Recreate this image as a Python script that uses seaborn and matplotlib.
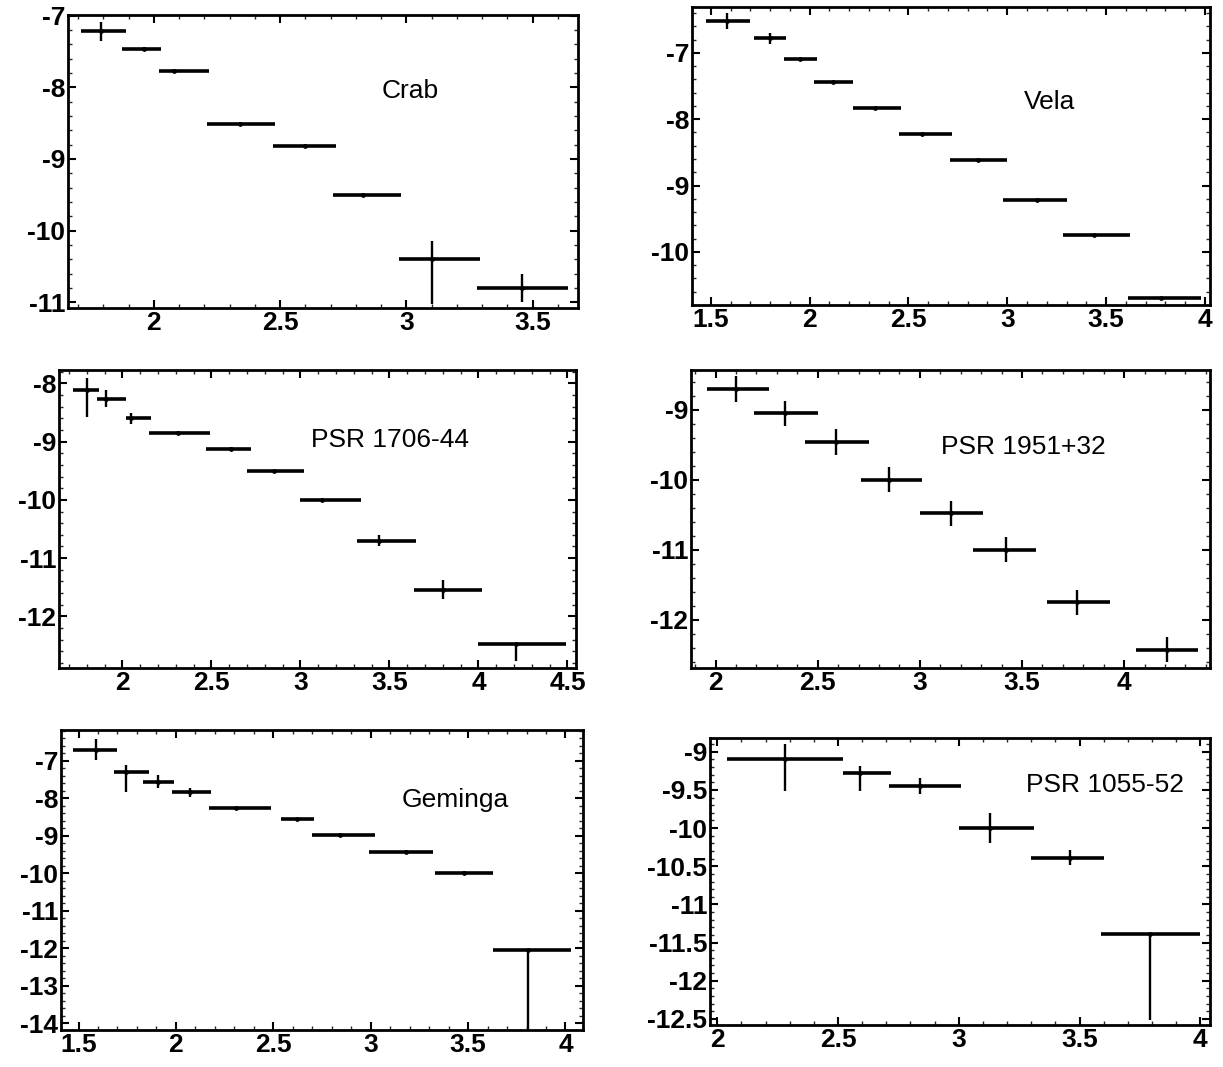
import numpy as np
import matplotlib
matplotlib.use("Agg")
import matplotlib.pyplot as plt
import seaborn as sns
from matplotlib.ticker import FuncFormatter, AutoMinorLocator

# Panel names
names = ["Crab", "Vela", "PSR 1706-44", "PSR 1951+32", "Geminga", "PSR 1055-52"]

# Crab
crab_x = [1.79, 1.96, 2.08, 2.34, 2.60, 2.83, 3.10, 3.46]
crab_xlo = [1.71, 1.875, 2.02, 2.21, 2.47, 2.71, 2.97, 3.28]
crab_xhi = [1.89, 2.03, 2.22, 2.48, 2.72, 2.98, 3.29, 3.64]
crab_y = [-7.22, -7.46, -7.77, -8.51, -8.82, -9.50, -10.40, -10.80]
crab_elo = [0.13, 0.03, 0.03, 0.02, 0.03, 0.03, 0.62, 0.20]
crab_ehi = [0.13, 0.03, 0.03, 0.02, 0.03, 0.03, 0.25, 0.20]

# Vela
vela_x = [1.58, 1.80, 1.95, 2.12, 2.33, 2.57, 2.85, 3.15, 3.44, 3.78]
vela_xlo = [1.474, 1.72, 1.87, 2.02, 2.22, 2.45, 2.71, 2.98, 3.28, 3.61]
vela_xhi = [1.70, 1.88, 2.04, 2.22, 2.46, 2.72, 3.00, 3.30, 3.62, 3.98]
vela_y = [-6.52, -6.78, -7.10, -7.44, -7.83, -8.22, -8.61, -9.22, -9.74, -10.70]
vela_elo = [0.12, 0.08, 0.01, 0.01, 0.01, 0.01, 0.01, 0.01, 0.01, 0.01]
vela_ehi = [0.12, 0.08, 0.01, 0.01, 0.01, 0.01, 0.01, 0.01, 0.01, 0.01]

# PSR 1706-44 (last point is an upper limit)
p1706_x = [1.80, 1.91, 2.05, 2.31, 2.61, 2.85, 3.12, 3.44, 3.80, 4.21]
p1706_xlo = [1.72, 1.86, 2.02, 2.15, 2.47, 2.70, 3.00, 3.32, 3.64, 4.00]
p1706_xhi = [1.87, 2.02, 2.16, 2.49, 2.72, 3.02, 3.34, 3.65, 4.02, 4.49]
p1706_y = [-8.11, -8.26, -8.60, -8.85, -9.13, -9.50, -10.00, -10.70, -11.54, -12.47]
p1706_elo = [0.46, 0.15, 0.09, 0.03, 0.03, 0.02, 0.04, 0.10, 0.17, 0.30]
p1706_ehi = [0.20, 0.15, 0.09, 0.03, 0.03, 0.02, 0.04, 0.10, 0.17, 0.0]

# PSR 1951+32
p1951_x = [2.10, 2.34, 2.59, 2.85, 3.15, 3.42, 3.77, 4.21]
p1951_xlo = [1.96, 2.19, 2.44, 2.71, 3.00, 3.26, 3.62, 4.06]
p1951_xhi = [2.26, 2.50, 2.75, 3.01, 3.31, 3.57, 3.93, 4.36]
p1951_y = [-8.70, -9.05, -9.46, -10.00, -10.48, -11.00, -11.75, -12.43]
p1951_elo = [0.19, 0.18, 0.18, 0.18, 0.18, 0.18, 0.18, 0.18]
p1951_ehi = [0.19, 0.18, 0.18, 0.18, 0.18, 0.18, 0.18, 0.18]

# Geminga (last point is an upper limit)
gem_x = [1.59, 1.745, 1.91, 2.07, 2.31, 2.62, 2.84, 3.18, 3.48, 3.81]
gem_xlo = [1.47, 1.68, 1.83, 1.98, 2.17, 2.54, 2.70, 2.99, 3.33, 3.63]
gem_xhi = [1.70, 1.86, 1.99, 2.18, 2.49, 2.71, 3.02, 3.32, 3.63, 4.03]
gem_y = [-6.70, -7.31, -7.56, -7.84, -8.27, -8.56, -8.98, -9.44, -9.98, -12.05]
gem_elo = [0.27, 0.53, 0.17, 0.12, 0.03, 0.03, 0.06, 0.05, 0.05, 2.2]
gem_ehi = [0.27, 0.20, 0.17, 0.12, 0.03, 0.03, 0.06, 0.05, 0.05, 0.0]

# PSR 1055-52 (last point is an upper limit)
p1055_x = [2.28, 2.59, 2.84, 3.13, 3.46, 3.79]
p1055_xlo = [2.04, 2.52, 2.71, 3.00, 3.30, 3.59]
p1055_xhi = [2.52, 2.72, 3.01, 3.31, 3.60, 4.00]
p1055_y = [-9.09, -9.28, -9.45, -10.00, -10.39, -11.39]
p1055_elo = [0.43, 0.23, 0.10, 0.20, 0.10, 1.13]
p1055_ehi = [0.19, 0.09, 0.10, 0.20, 0.10, 0.0]

panels = [
    (crab_x, crab_xlo, crab_xhi, crab_y, crab_elo, crab_ehi),
    (vela_x, vela_xlo, vela_xhi, vela_y, vela_elo, vela_ehi),
    (p1706_x, p1706_xlo, p1706_xhi, p1706_y, p1706_elo, p1706_ehi),
    (p1951_x, p1951_xlo, p1951_xhi, p1951_y, p1951_elo, p1951_ehi),
    (gem_x, gem_xlo, gem_xhi, gem_y, gem_elo, gem_ehi),
    (p1055_x, p1055_xlo, p1055_xhi, p1055_y, p1055_elo, p1055_ehi),
]

xlims = [(1.66, 3.68), (1.405, 4.026), (1.644, 4.548), (1.88, 4.42), (1.41, 4.09), (1.97, 4.04)]
ylims = [(-11.08, -6.99), (-10.80, -6.31), (-12.886, -7.77), (-12.69, -8.43), (-14.18, -6.18), (-12.58, -8.82)]
xticks = [[2, 2.5, 3, 3.5], [1.5, 2, 2.5, 3, 3.5, 4], [2, 2.5, 3, 3.5, 4, 4.5],
          [2, 2.5, 3, 3.5, 4], [1.5, 2, 2.5, 3, 3.5, 4], [2, 2.5, 3, 3.5, 4]]
yticks = [[-7, -8, -9, -10, -11], [-7, -8, -9, -10], [-8, -9, -10, -11, -12],
          [-9, -10, -11, -12], [-7, -8, -9, -10, -11, -12, -13, -14],
          [-9, -9.5, -10, -10.5, -11, -11.5, -12, -12.5]]
label_pos = [(0.67, 0.74), (0.69, 0.68), (0.64, 0.765), (0.64, 0.74), (0.755, 0.767), (0.79, 0.836)]

# axes boxes in pixels (left, top, right, bottom)
boxes = [(68, 15, 578, 308), (692, 7, 1210, 305), (59, 370, 576, 668),
         (691, 370, 1210, 668), (61, 730, 583, 1030), (710, 738, 1210, 1025)]

sns.set_theme(style="ticks")
plt.rcParams['font.family'] = ['Liberation Sans', 'DejaVu Sans']
plt.rcParams['axes.unicode_minus'] = False
plt.rcParams['text.color'] = 'black'

W, H = 1223, 1067
fig = plt.figure(figsize=(W / 100, H / 100), dpi=100)

fmt = FuncFormatter(lambda v, p: "%g" % v)

for i, (x, xlo, xhi, y, elo, ehi) in enumerate(panels):
    l, t, r, b = boxes[i]
    ax = fig.add_axes([l / W, 1 - b / H, (r - l) / W, (b - t) / H])
    x = np.array(x); y = np.array(y)
    xerr = [x - np.array(xlo), np.array(xhi) - x]
    yerr = [np.array(elo), np.array(ehi)]
    ax.errorbar(x, y, xerr=xerr, fmt="none", ecolor="black", elinewidth=2.6, capsize=0)
    ax.errorbar(x, y, yerr=yerr, fmt="none", ecolor="black", elinewidth=1.7, capsize=0)
    sns.scatterplot(x=x, y=y, ax=ax, color="black", s=12, linewidth=0, legend=False)
    ax.set_xlim(xlims[i]); ax.set_ylim(ylims[i])
    ax.set_xticks(xticks[i]); ax.set_yticks(yticks[i])
    ax.xaxis.set_major_formatter(fmt); ax.yaxis.set_major_formatter(fmt)
    ax.xaxis.set_minor_locator(AutoMinorLocator(5))
    ax.yaxis.set_minor_locator(AutoMinorLocator(5))
    ax.tick_params(which="major", direction="in", length=6, width=1.5,
                   top=True, right=True, labelsize=19, pad=2, colors="black")
    ax.tick_params(which="minor", direction="in", length=3, width=1.0, top=True, right=True)
    for lab in ax.get_xticklabels() + ax.get_yticklabels():
        lab.set_fontweight("bold")
    for sp in ax.spines.values():
        sp.set_linewidth(2.0); sp.set_color("black")
    ax.text(label_pos[i][0], label_pos[i][1], names[i], transform=ax.transAxes,
            ha="center", va="center", fontsize=19, color="black")
    ax.set_xlabel(""); ax.set_ylabel("")

fig.savefig("out.png", dpi=100)
